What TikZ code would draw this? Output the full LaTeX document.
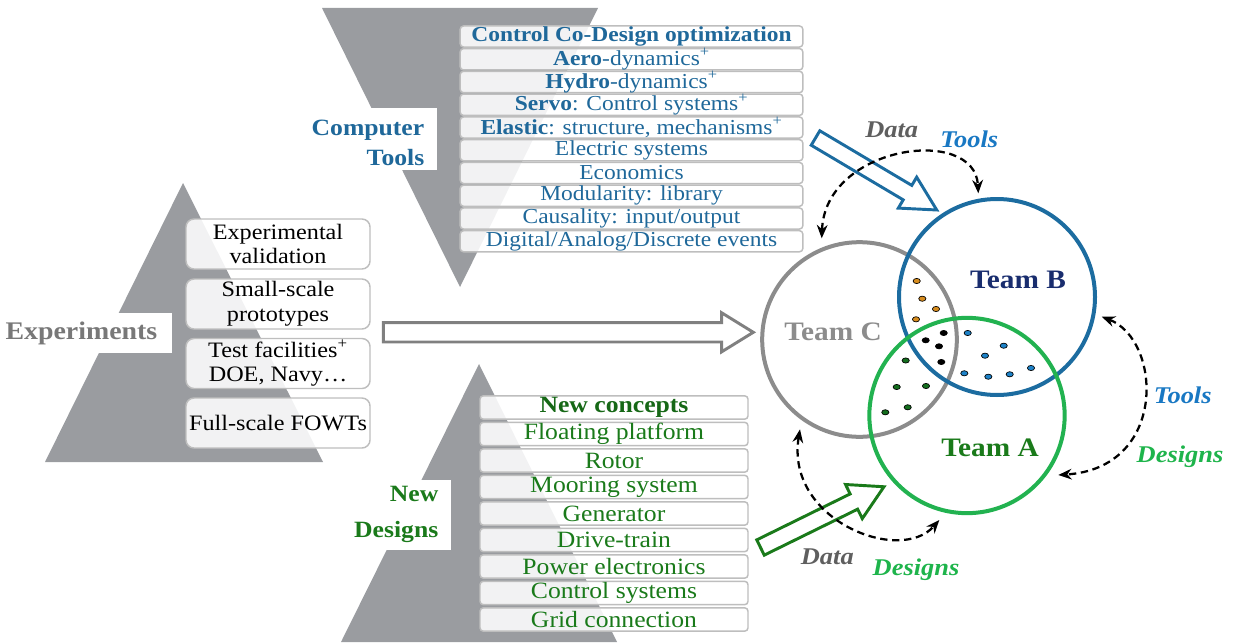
\documentclass[tikz,border=0pt]{standalone}
\usepackage{fontspec}
\setmainfont{Liberation Serif}[FakeStretch=1.1]
\usetikzlibrary{arrows.meta}
\definecolor{tri}{RGB}{154,156,160}
\definecolor{toolblue}{RGB}{31,104,154}
\definecolor{desgreen}{RGB}{26,122,26}
\definecolor{teamnavy}{RGB}{25,45,110}
\definecolor{circB}{RGB}{28,108,160}
\definecolor{circC}{RGB}{140,140,140}
\definecolor{circA}{RGB}{34,178,80}
\definecolor{toolit}{RGB}{25,120,195}
\definecolor{desit}{RGB}{30,180,75}
\definecolor{datait}{RGB}{95,95,95}
\definecolor{expgray}{RGB}{120,120,120}
\definecolor{dotor}{RGB}{215,140,30}
\definecolor{dotbl}{RGB}{30,130,200}
\definecolor{dotgr}{RGB}{20,110,30}
\definecolor{boxline}{RGB}{190,190,190}
\newcommand\fs[2]{\fontsize{#1}{#2}\selectfont}
\newcommand\blockarrow[7]{%
  \draw[#1, shift={(#2)}, rotate=#3] (0,-#5) -- ({#4-#7},-#5) -- ({#4-#7},-#6) -- (#4,0) -- ({#4-#7},#6) -- ({#4-#7},#5) -- (0,#5) -- cycle;}
\tikzset{
  listbox/.style={draw=boxline, line width=1.1pt, fill=white, fill opacity=0.88, text opacity=1, rounded corners=2.5pt, inner sep=0pt, align=center},
  toprow/.style={listbox, minimum width=257pt, minimum height=15.8pt, text=toolblue, font=\fs{16}{16}},
  botrow/.style={listbox, minimum width=201pt, minimum height=17.5pt, text=desgreen, font=\fs{17.5}{17.5}},
  expbox/.style={listbox, rounded corners=6pt, minimum width=138pt, minimum height=37.5pt, font=\fs{16.5}{18.5}},
  whitebox/.style={fill=white, draw=none},
  team/.style={line width=3pt},
  dasharc/.style={draw=black, line width=1.7pt, dash pattern=on 5.5pt off 3.5pt, {Stealth[length=10pt,width=8pt]}-{Stealth[length=10pt,width=8pt]}},
  lab/.style={font=\fs{18}{18}\bfseries\itshape, inner sep=0pt},
  dot/.style={draw=black, line width=0.5pt},
}
\begin{document}
\begin{tikzpicture}[x=0.75pt,y=0.75pt]
\useasboundingbox (0,0) rectangle (1234,-642);
% gray triangles
\fill[tri] (322,-8) -- (598,-8) -- (460,-287) -- cycle;
\fill[tri] (183,-183) -- (45,-462) -- (323,-462) -- cycle;
\fill[tri] (479,-364) -- (341,-642) -- (617,-642) -- cycle;
% white label boxes
\fill[whitebox] (300,-108) rectangle (437,-170);
\fill[whitebox] (0,-313) rectangle (172,-353);
\fill[whitebox] (320,-480) rectangle (451,-550);
\node[font=\fs{17.5}{22.5}\bfseries, text=toolblue, align=right, anchor=east] (ctl) at (429,-143) {Computer\\Tools};
\node[font=\fs{19}{19}\bfseries, text=expgray, anchor=east] (expl) at (162,-333) {Experiments};
\node[font=\fs{17.5}{27}\bfseries, text=desgreen, align=right, anchor=east] (ndl) at (443,-514) {New\\Designs};
% top list
\node[toprow, font=\fs{16}{16}\bfseries] (t0) at (631.5,-36.5) {Control Co-Design optimization};
\node[toprow] (t1) at (631.5,-59.25) {\textbf{Aero}-dynamics\textsuperscript{+}};
\node[toprow] (t2) at (631.5,-82) {\textbf{Hydro}-dynamics\textsuperscript{+}};
\node[toprow] (t3) at (631.5,-104.75) {\textbf{Servo}: Control systems\textsuperscript{+}};
\node[toprow] (t4) at (631.5,-127.5) {\textbf{Elastic}: structure, mechanisms\textsuperscript{+}};
\node[toprow] (t5) at (631.5,-150.25) {Electric systems};
\node[toprow] (t6) at (631.5,-173) {Economics};
\node[toprow] (t7) at (631.5,-195.75) {Modularity: library};
\node[toprow] (t8) at (631.5,-218.5) {Causality: input/output};
\node[toprow] (t9) at (631.5,-241.25) {Digital/Analog/Discrete events};
% left boxes
\node[expbox] (e1) at (278,-244) {Experimental\\validation};
\node[expbox] (e2) at (278,-304) {Small-scale\\prototypes};
\node[expbox] (e3) at (278,-363.5) {Test facilities\textsuperscript{+}\\DOE, Navy\ldots};
\node[expbox] (e4) at (278,-423) {Full-scale FOWTs};
% bottom list
\node[botrow, font=\fs{17.5}{17.5}\bfseries, text=desgreen!85!black] (b0) at (614,-407.5) {New concepts};
\node[botrow] (b1) at (614,-434) {Floating platform};
\node[botrow] (b2) at (614,-460.5) {Rotor};
\node[botrow] (b3) at (614,-487) {Mooring system};
\node[botrow] (b4) at (614,-513.5) {Generator};
\node[botrow] (b5) at (614,-540) {Drive-train};
\node[botrow] (b6) at (614,-566.5) {Power electronics};
\node[botrow] (b7) at (614,-593) {Control systems};
\node[botrow] (b8) at (614,-619.5) {Grid connection};
% team circles
\node[circle, draw=circC, team, minimum size=146pt, inner sep=0pt] (C) at (859.5,-339.5) {};
\node[circle, draw=circB, team, minimum size=147pt, inner sep=0pt] (B) at (997,-297) {};
\node[circle, draw=circA, team, minimum size=146.5pt, inner sep=0pt] (A) at (967,-415.5) {};
\node[font=\fs{20}{20}\bfseries, text=teamnavy] (Bl) at (1018,-280) {Team B};
\node[font=\fs{20}{20}\bfseries, text=circC] (Cl) at (833,-332) {Team C};
\node[font=\fs{20}{20}\bfseries, text=desgreen] (Al) at (990,-448) {Team A};
% dots
\foreach \p in {(916.7,-281),(922.3,-298.7),(936,-309),(916,-319.3)}
  \fill[dotor, dot] \p ellipse (3.6 and 2.6);
\foreach \p in {(943.7,-333),(925.7,-340.3),(939,-346.3),(941.3,-362)}
  \fill[black, dot] \p ellipse (3.6 and 2.6);
\foreach \p in {(967.7,-333),(1003.7,-345.7),(985,-355.7),(964.3,-373.3),(988.3,-376.7),(1009.7,-374.3),(1031,-368)}
  \fill[dotbl, dot] \p ellipse (3.6 and 2.6);
\foreach \p in {(905.7,-360.5),(896.7,-387),(926,-386),(885.3,-412.3),(907.7,-407.3)}
  \fill[dotgr, dot] \p ellipse (3.6 and 2.6);
% hollow block arrows
\coordinate (gt) at (383.3,-332.3);
\coordinate (bt) at (815.5,-138);
\coordinate (grt) at (760.5,-547.5);
\blockarrow{draw=gray, line width=2.2pt, fill=white, line join=miter}{gt}{0}{370}{9.7}{19.5}{31.6}
\blockarrow{draw=circB, line width=2.2pt, fill=white, line join=miter}{bt}{-30.7}{141}{8.4}{18}{34}
\blockarrow{draw=desgreen, line width=2.2pt, fill=white, line join=miter}{grt}{26.2}{137.6}{8.5}{19}{33.5}
% dashed arcs
\coordinate (d1s) at (821.7,-238.3);
\coordinate (d1e) at (978.3,-193.3);
\coordinate (d2s) at (1101.7,-316.7);
\coordinate (d2e) at (1058.3,-475);
\coordinate (d3s) at (800,-429.3);
\coordinate (d3e) at (939.3,-520);
\draw[dasharc] (d1s) .. controls (825,-145) and (975,-125) .. (d1e);
\draw[dasharc] (d2s) .. controls (1162,-340) and (1168,-468) .. (d2e);
\draw[dasharc] (d3s) .. controls (785,-520) and (900,-565) .. (d3e);
% labels
\node[lab, text=datait] (L1) at (891.7,-129.3) {Data};
\node[lab, text=toolit] (L2) at (969.3,-139.3) {Tools};
\node[lab, text=toolit] (L3) at (1182.7,-395) {Tools};
\node[lab, text=desit] (L4) at (1180,-456.7) {Designs};
\node[lab, text=datait] (L5) at (827.3,-556.7) {Data};
\node[lab, text=desit] (L6) at (916,-569.3) {Designs};
\end{tikzpicture}
\end{document}
